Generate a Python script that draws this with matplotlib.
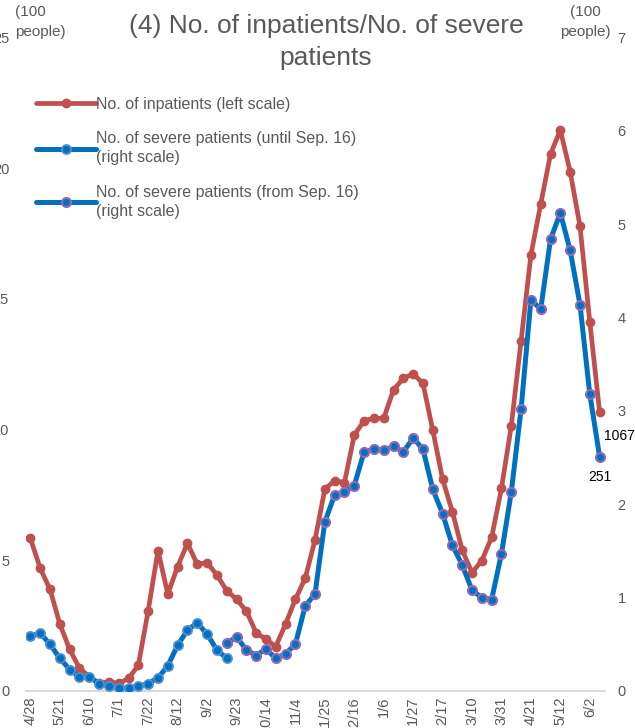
import matplotlib
matplotlib.use("Agg")
import matplotlib.pyplot as plt
import numpy as np

plt.rcParams['font.family'] = ['Liberation Sans', 'DejaVu Sans']

# ---- data (units of 100 people) ----
tick_labels = ["4/28", "5/21", "6/10", "7/1", "7/22", "8/12", "9/2", "9/23",
               "10/14", "11/4", "11/25", "12/16", "1/6", "1/27", "2/17",
               "3/10", "3/31", "4/21", "5/12", "6/2"]

inpatients = [5.84, 4.69, 3.89, 2.56, 1.59, 0.87, 0.55, 0.29, 0.36, 0.29,
              0.48, 0.99, 3.07, 5.37, 3.71, 4.76, 5.65, 4.85, 4.91, 4.44,
              3.84, 3.51, 3.06, 2.23, 1.98, 1.70, 2.56, 3.51, 4.31, 5.78,
              7.72, 8.05, 7.97, 9.79, 10.34, 10.43, 10.43, 11.52, 11.96, 12.13,
              11.77, 9.98, 8.10, 6.86, 5.39, 4.53, 4.99, 5.88, 7.75, 10.14,
              13.40, 16.68, 18.63, 20.54, 21.46, 19.87, 17.79, 14.13, 10.67]

severe_until = [0.59, 0.62, 0.50, 0.35, 0.23, 0.15, 0.15, 0.08, 0.05, 0.03,
                0.03, 0.05, 0.08, 0.14, 0.27, 0.49, 0.65, 0.73, 0.61, 0.44,
                0.35]

severe_from = [0.51, 0.58, 0.44, 0.38, 0.45, 0.35, 0.40, 0.50, 0.91, 1.04,
               1.81, 2.10, 2.13, 2.20, 2.56, 2.59, 2.58, 2.62, 2.56, 2.71,
               2.59, 2.16, 1.90, 1.56, 1.35, 1.08, 1.00, 0.98, 1.47, 2.13,
               3.02, 4.19, 4.09, 4.84, 5.12, 4.72, 4.14, 3.18, 2.51]

labels = ["No. of inpatients (left scale)",
          "No. of severe patients (until Sep. 16)\n(right scale)",
          "No. of severe patients (from Sep. 16)\n(right scale)"]

n = len(inpatients)
x_all = np.arange(n)
x_until = np.arange(len(severe_until))
x_from = np.arange(n - len(severe_from), n)

RED = '#C0504D'
BLUE = '#0070C0'
GRAY = '#595959'

fig = plt.figure(figsize=(6.35, 7.28), dpi=100)
ax = fig.add_axes([26/635, 37/728, 579/635, 653.5/728])
ax2 = ax.twinx()

l1, = ax.plot(x_all, inpatients, color=RED, lw=3.4, marker='o', ms=6,
              mfc=RED, mec=RED, solid_capstyle='round', solid_joinstyle='round')
l2, = ax2.plot(x_until, severe_until, color=BLUE, lw=3.6, marker='o', ms=6.5,
               mfc=BLUE, mec='#4F8FD0', mew=1.3, solid_capstyle='round',
               solid_joinstyle='round')
l3, = ax2.plot(x_from, severe_from, color=BLUE, lw=3.6, marker='o', ms=6.5,
               mfc=BLUE, mec='#8E6BB3', mew=1.5, solid_capstyle='round',
               solid_joinstyle='round')

ax.set_xlim(-0.45, n - 0.45)
ax.set_ylim(0, 25)
ax2.set_ylim(0, 7)
ax.set_yticks(range(0, 26, 5))
ax2.set_yticks(range(0, 8))

ax.set_xticks(np.arange(0, n, 3)[:len(tick_labels)])
ax.set_xticklabels(tick_labels, rotation=90, color=GRAY, fontsize=10.5)

for a in (ax, ax2):
    for s in a.spines.values():
        s.set_visible(False)
ax.spines['bottom'].set_visible(True)
ax.spines['bottom'].set_color('#D9D9D9')
ax.spines['bottom'].set_linewidth(1.5)

ax.tick_params(axis='x', length=0, pad=4)
ax.tick_params(axis='y', length=0, pad=12, labelcolor=GRAY, labelsize=10.5)
ax2.tick_params(axis='y', length=0, pad=9, labelcolor=GRAY, labelsize=10.5)

# data labels for last points
ax.annotate(f"{round(inpatients[-1]*100)}", (x_all[-1], inpatients[-1]),
            xytext=(14, -17), textcoords='offset points', ha='center',
            va='center', fontsize=10, color='black', annotation_clip=False)
ax2.annotate(f"{round(severe_from[-1]*100)}", (x_from[-1], severe_from[-1]),
             xytext=(0, -14.5), textcoords='offset points', ha='center',
             va='center', fontsize=10, color='black', annotation_clip=False)

# title and unit labels
fig.text(326/635, 1 - 14/728, "(4) No. of inpatients/No. of severe\npatients",
         ha='center', va='top', fontsize=19, color=GRAY, linespacing=1.42)
fig.text(15/635, 1 - 5/728, "(100\npeople)", ha='left', va='top',
         fontsize=11, color=GRAY, linespacing=1.55)
fig.text(585/635, 1 - 5/728, "(100\npeople)", ha='center', va='top',
         fontsize=11, color=GRAY, linespacing=1.55)

leg = fig.legend([l1, l2, l3], labels, loc='upper left',
                 bbox_to_anchor=(36/635, 1 - 97/728), frameon=False,
                 handlelength=3.75, handletextpad=0.0, labelspacing=1.2,
                 fontsize=11.5, labelcolor=GRAY, borderpad=0, borderaxespad=0)
for t in leg.get_texts():
    t.set_linespacing(1.35)

fig.savefig("out.png", dpi=100)
